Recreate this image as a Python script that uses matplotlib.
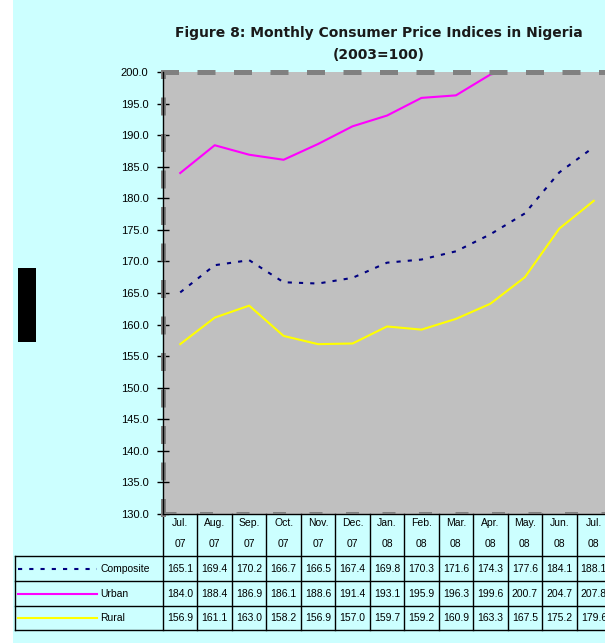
import numpy as np
import matplotlib
matplotlib.use('Agg')
import matplotlib.pyplot as plt
import matplotlib.transforms as mtransforms
from matplotlib.patches import Rectangle

plt.rcParams['font.family'] = ['Liberation Sans', 'DejaVu Sans']

months = ['Jul.', 'Aug.', 'Sep.', 'Oct.', 'Nov.', 'Dec.', 'Jan.',
          'Feb.', 'Mar.', 'Apr.', 'May.', 'Jun.', 'Jul.']
years = ['07', '07', '07', '07', '07', '07', '08',
         '08', '08', '08', '08', '08', '08']
composite = [165.1, 169.4, 170.2, 166.7, 166.5, 167.4, 169.8,
             170.3, 171.6, 174.3, 177.6, 184.1, 188.1]
urban = [184.0, 188.4, 186.9, 186.1, 188.6, 191.4, 193.1,
         195.9, 196.3, 199.6, 200.7, 204.7, 207.8]
rural = [156.9, 161.1, 163.0, 158.2, 156.9, 157.0, 159.7,
         159.2, 160.9, 163.3, 167.5, 175.2, 179.6]

series = [
    ('Composite', composite, '#000080', (0, (2, 3.4))),
    ('Urban', urban, '#FF00FF', '-'),
    ('Rural', rural, '#FFFF00', '-'),
]

W, H = 605, 643
fig = plt.figure(figsize=(W / 100, H / 100), dpi=100, facecolor='#CCFFFF')

# white strip on the left and the black block
fig.patches.append(Rectangle((0, 0), 13 / W, 1, transform=fig.transFigure,
                             facecolor='white', edgecolor='none', zorder=0))
fig.patches.append(Rectangle((18 / W, (H - 342) / H), 18 / W, 74 / H,
                             transform=fig.transFigure, facecolor='black',
                             edgecolor='none', zorder=1))

# plot area (extends past the right edge like the original)
left, right, top, bottom = 163, 611, 72, 514
ax = fig.add_axes([left / W, (H - bottom) / H, (right - left) / W, (bottom - top) / H])
ax.set_facecolor('#C0C0C0')

x = np.arange(len(months))
for name, vals, col, ls in series:
    ax.plot(x, vals, color=col, lw=1.5, linestyle=ls)

ax.set_xlim(-0.5, len(months) - 0.5)
ax.set_ylim(130, 200)
ax.set_yticks(np.arange(130, 201, 5))
ax.set_yticklabels([f'{v:.1f}' for v in np.arange(130, 201, 5)], fontsize=8)
ax.tick_params(axis='y', direction='inout', length=8, width=1, pad=6.5)
ax.set_xticks([])

for s in ['top', 'left', 'right']:
    ax.spines[s].set_color('#808080')
    ax.spines[s].set_linewidth(3.6)
    ax.spines[s].set_linestyle((0, (2.6, 4.7)))
ax.spines['bottom'].set_color('black')
ax.spines['bottom'].set_linewidth(1)
ax.axvline(-0.5, color='black', lw=1, clip_on=False, zorder=5)

# dashed gray bottom border just above the axis line
ax.axhline(130, color='#808080', lw=3.6, linestyle=(0, (2.6, 4.7)), zorder=4)

# title
fig.text(379 / W, 1 - 33 / H, 'Figure 8: Monthly Consumer Price Indices in Nigeria',
         ha='center', va='center', fontsize=10, fontweight='bold',
         family='DejaVu Sans', color='#1a1a1a')
fig.text(379 / W, 1 - 55 / H, '(2003=100)', ha='center', va='center',
         fontsize=10, fontweight='bold', family='DejaVu Sans', color='#1a1a1a')

# data table below the axis
tr = mtransforms.blended_transform_factory(ax.transData, ax.transAxes)
ph = bottom - top
def ya(py):
    return (bottom - py) / ph
def xd(px):
    return (px - left) / ((right - left) / len(months)) - 0.5

row_lines = [556, 581, 606, 630]
x_left = xd(15)
x_end = len(months) + 1
for py in row_lines:
    ax.plot([x_left, x_end], [ya(py)] * 2, color='black', lw=1,
            transform=tr, clip_on=False)
ax.plot([x_left, x_left], [ya(556), ya(630)], color='black', lw=1,
        transform=tr, clip_on=False)
for k in range(len(months) + 1):
    ax.plot([k - 0.5, k - 0.5], [0, ya(630)], color='black', lw=1,
            transform=tr, clip_on=False)

for i in range(len(months)):
    ax.text(i, ya(523), months[i], transform=tr, ha='center', va='center', fontsize=7.5)
    ax.text(i, ya(544), years[i], transform=tr, ha='center', va='center', fontsize=7.5)

row_centers = [569, 594, 618]
for (name, vals, col, ls), py in zip(series, row_centers):
    ax.plot([xd(18), xd(97)], [ya(py)] * 2, color=col, lw=1.5, linestyle=ls,
            transform=tr, clip_on=False)
    ax.text(xd(100), ya(py), name, transform=tr, ha='left', va='center', fontsize=7.5)
    for i, v in enumerate(vals):
        ax.text(i, ya(py), f'{v:.1f}', transform=tr, ha='center', va='center',
                fontsize=7.5)

fig.savefig('out.png', dpi=100, facecolor=fig.get_facecolor())
